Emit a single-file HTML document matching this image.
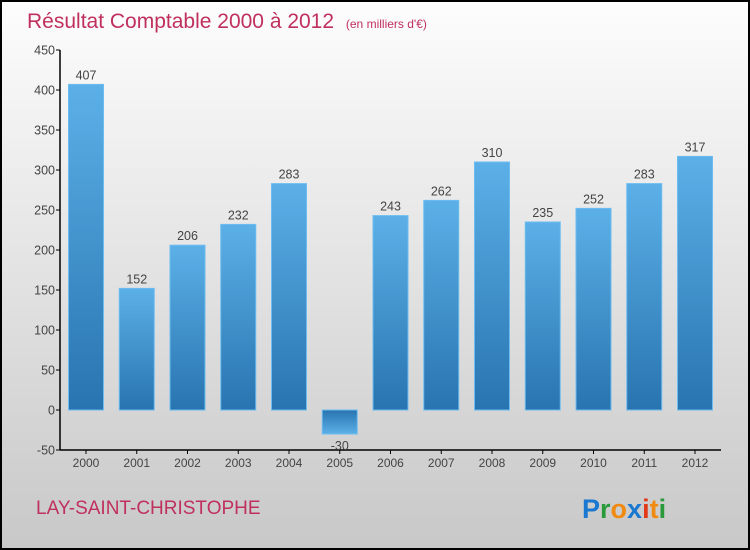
<!DOCTYPE html>
<html><head><meta charset="utf-8"><style>
body{margin:0;}
svg{display:block;font-family:"Liberation Sans",sans-serif;}
</style></head><body>
<svg width="750" height="550" viewBox="0 0 750 550">
<defs>
<linearGradient id="bg" x1="0" y1="0" x2="0" y2="1"><stop offset="0" stop-color="#fdfdfd"/><stop offset="1" stop-color="#c8c8c8"/></linearGradient>
<linearGradient id="bp" x1="0" y1="0" x2="0" y2="1"><stop offset="0" stop-color="#5cb0e8"/><stop offset="1" stop-color="#2874b0"/></linearGradient>
<linearGradient id="bn" x1="0" y1="0" x2="0" y2="1"><stop offset="0" stop-color="#2874b0"/><stop offset="1" stop-color="#5cb0e8"/></linearGradient>
</defs>
<rect x="1" y="1" width="748" height="548" fill="url(#bg)" stroke="#000" stroke-width="2"/>
<text x="27" y="28" font-size="21" fill="#c0305e">Résultat Comptable 2000 à 2012 <tspan font-size="12" dx="6">(en milliers d'€)</tspan></text>
<g id="plot"></g>
<text x="36" y="514" font-size="19" fill="#c0305e">LAY-SAINT-CHRISTOPHE</text>
<text x="582" y="518" font-size="27" font-weight="bold"><tspan fill="#1a78d0">P</tspan><tspan fill="#2a9a3a">r</tspan><tspan fill="#f08a10">o</tspan><tspan fill="#1a78d0">x</tspan><tspan fill="#e03a1a">i</tspan><tspan fill="#f08a10">t</tspan><tspan fill="#2a9a3a">i</tspan></text>
</svg>
<script>
const years=["2000","2001","2002","2003","2004","2005","2006","2007","2008","2009","2010","2011","2012"];
const values=[407,152,206,232,283,-30,243,262,310,235,252,283,317];
const yTicks=[-50,0,50,100,150,200,250,300,350,400,450];
const NS="http://www.w3.org/2000/svg";
const g=document.getElementById('plot');
const y=v=>410-v*0.8;
const x=i=>86+i*50.75;
function mk(t,a){const e=document.createElementNS(NS,t);for(const k in a)e.setAttribute(k,a[k]);g.appendChild(e);return e;}
let ax=mk('line',{x1:60,y1:50,x2:60,y2:450,stroke:'#000','stroke-width':1.5});


let bx=mk('line',{x1:60,y1:450,x2:721,y2:450,stroke:'#000','stroke-width':1.5});


yTicks.forEach(v=>{
 mk('line',{x1:56,y1:y(v),x2:60,y2:y(v),stroke:'#000'});
 const t=mk('text',{x:55,y:y(v)+4.5,'font-size':12.5,fill:'#444','text-anchor':'end'});
 t.textContent=v;
 
 
});
years.forEach((yr,i)=>{
 const v=values[i],cx=x(i);
 mk('line',{x1:cx,y1:450,x2:cx,y2:454,stroke:'#000'});
 const t=mk('text',{x:cx,y:467,'font-size':12,fill:'#444','text-anchor':'middle'});
 t.textContent=yr;
 
 
 const top=Math.min(y(v),y(0)),h=Math.abs(y(v)-y(0));
 const r=mk('rect',{x:cx-17.5,y:top,width:35,height:h,fill:v>=0?'url(#bp)':'url(#bn)',stroke:'#6cbcf0','stroke-width':1});
 
 
 const l=mk('text',{x:cx,y:v>=0?y(v)-5:y(v)+16,'font-size':12.5,fill:'#444','text-anchor':'middle'});
 l.textContent=v;
 
 
});
</script>
</body></html>
